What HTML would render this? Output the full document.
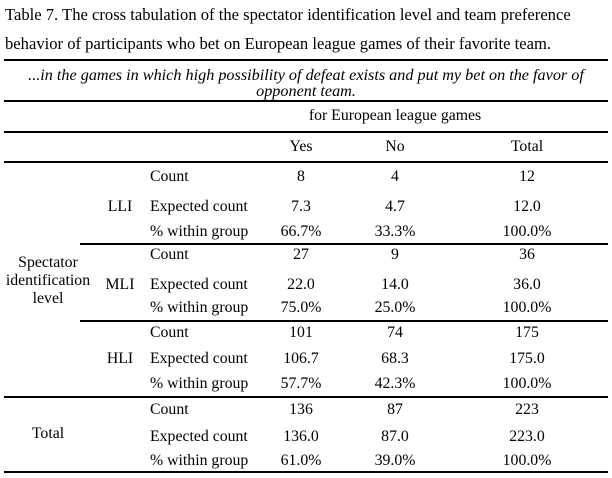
<!DOCTYPE html>
<html><head><meta charset="utf-8"><style>
body{margin:0;width:612px;height:478px;background:#fff;position:relative;font-family:"Liberation Serif",serif;font-size:15.8px;color:#000;overflow:hidden}
.t{position:absolute;white-space:nowrap;line-height:18px;height:18px}
.c{transform:translateX(-50%)}
.h{position:absolute;height:1.5px;background:#000}
</style></head><body>
<div class="t" style="left:5px;top:6px;font-size:16.6px">Table 7. The cross tabulation of the spectator identification level and team preference</div>
<div class="t" style="left:5px;top:35px;font-size:16.6px">behavior of participants who bet on European league games of their favorite team.</div>
<div class="h" style="left:4px;width:604px;top:59px"></div>
<div class="t c" style="left:306px;top:66px;font-style:italic;font-size:16.2px">...in the games in which high possibility of defeat exists and put my bet on the favor of</div>
<div class="t c" style="left:306px;top:82px;font-style:italic;font-size:16.2px">opponent team.</div>
<div class="h" style="left:4px;width:604px;top:100px"></div>
<div class="t c" style="left:395px;top:107px">for European league games</div>
<div class="h" style="left:4px;width:604px;top:131px"></div>
<div class="t c" style="left:301px;top:138px">Yes</div>
<div class="t c" style="left:395px;top:138px">No</div>
<div class="t c" style="left:527px;top:138px">Total</div>
<div class="h" style="left:4px;width:604px;top:161px"></div>
<div class="h" style="left:80px;width:528px;top:243px"></div>
<div class="h" style="left:80px;width:528px;top:320px"></div>
<div class="h" style="left:4px;width:604px;top:396px"></div>
<div class="h" style="left:4px;width:604px;top:471px"></div>
<div class="t c" style="left:48px;top:254px">Spectator</div>
<div class="t c" style="left:48px;top:272px">identification</div>
<div class="t c" style="left:48px;top:290px">level</div>
<div class="t c" style="left:48px;top:425px">Total</div>
<div id="rows"></div>
<script>
const groups=["LLI","MLI","HLI",""];
const stats=["Count","Expected count","% within group"];
const yes=[["8","7.3","66.7%"],["27","22.0","75.0%"],["101","106.7","57.7%"],["136","136.0","61.0%"]];
const no=[["4","4.7","33.3%"],["9","14.0","25.0%"],["74","68.3","42.3%"],["87","87.0","39.0%"]];
const tot=[["12","12.0","100.0%"],["36","36.0","100.0%"],["175","175.0","100.0%"],["223","223.0","100.0%"]];
const rowY=[[168,198,223],[246,276,299],[324,350,375],[401,428,452]];
const root=document.getElementById('rows');
function add(txt,x,y,center,name){
  const d=document.createElement('div');
  d.className='t'+(center?' c':'');
  d.style.left=x+'px';d.style.top=y+'px';d.textContent=txt;
  
  
  root.appendChild(d);
}
groups.forEach((g,i)=>{
  if(g)add(g,120,rowY[i][1],true,'group-label');
  stats.forEach((s,j)=>{
    const y=rowY[i][j];
    add(s,150,y,false,'stat-label');
    add(yes[i][j],301,y,true,'cell-yes');
    add(no[i][j],395,y,true,'cell-no');
    add(tot[i][j],527,y,true,'cell-total');
  });
});
</script>
</body></html>
